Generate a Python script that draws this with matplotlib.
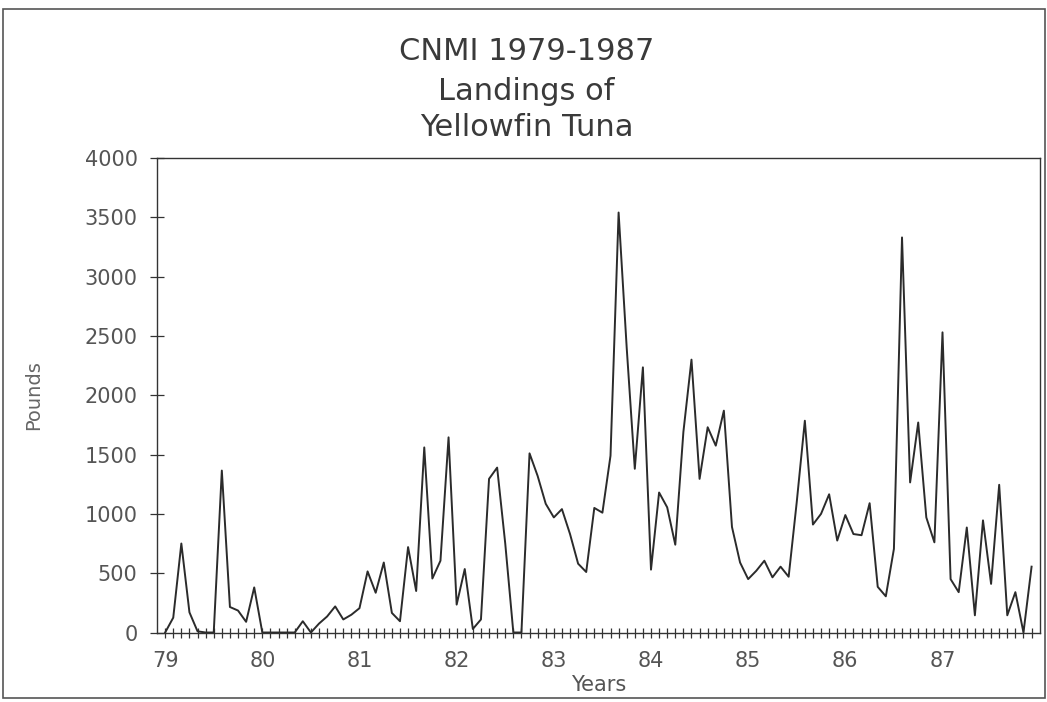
import numpy as np
import matplotlib
matplotlib.use("Agg")
import matplotlib.pyplot as plt
from matplotlib.patches import Rectangle

# monthly landings, Jan 1979 .. Dec 1987 (pounds)
year_labels = ["79", "80", "81", "82", "83", "84", "85", "86", "87"]
landings = [
    0, 125, 750, 170, 10, 0, 0, 1365, 215, 185, 90, 380,          # 1979
    0, 0, 0, 0, 0, 95, 0, 75, 135, 220, 110, 150,                  # 1980
    205, 515, 335, 590, 165, 95, 720, 350, 1560, 455, 605, 1645,   # 1981
    235, 535, 30, 110, 1295, 1390, 750, 0, 0, 1510, 1320, 1085,    # 1982
    970, 1040, 830, 580, 510, 1050, 1010, 1490, 3540, 2400, 1380, 2235,  # 1983
    530, 1180, 1055, 740, 1690, 2300, 1295, 1730, 1575, 1870, 890, 590,  # 1984
    450, 520, 605, 465, 555, 470, 1100, 1785, 910, 1000, 1165, 775,      # 1985
    990, 830, 820, 1090, 385, 305, 705, 3330, 1265, 1770, 970, 760,      # 1986
    2530, 450, 340, 885, 145, 945, 410, 1245, 145, 340, 0, 555,          # 1987
]
y_ticks = [0, 500, 1000, 1500, 2000, 2500, 3000, 3500, 4000]

first_year = 79
months = first_year + np.arange(len(landings)) / 12.0
year_pos = first_year + np.arange(len(year_labels))

txt = "#555555"
plt.rcParams["font.family"] = ["DejaVu Sans"]

fig = plt.figure(figsize=(10.47, 7.02), dpi=100)
ax = fig.add_axes([0.150, 0.099, 0.843, 0.676])

ax.plot(months, landings, color="#2b2b2b", linewidth=1.4)

ax.set_xlim(first_year - 1 / 12, first_year + len(landings) / 12)
ax.set_ylim(0, 4000)

ax.set_xticks(year_pos)
ax.set_xticklabels(year_labels)
ax.set_xticks(months, minor=True)
ax.set_yticks(y_ticks)
ax.set_yticklabels([str(v) for v in y_ticks])

ax.tick_params(axis="x", which="both", direction="inout", length=7, width=0.9,
               color="#333333", labelsize=15, labelcolor=txt, pad=10)
ax.tick_params(axis="y", direction="inout", length=10, width=0.9,
               color="#333333", labelsize=15, labelcolor=txt, pad=9)
for sp in ax.spines.values():
    sp.set_color("#333333")
    sp.set_linewidth(1.0)

ax.set_xlabel("Years", fontsize=15, color=txt, labelpad=3)
ax.set_ylabel("Pounds", fontsize=14, color="#666666", labelpad=30)

fig.text(0.503, 0.927, "CNMI 1979-1987", ha="center", va="center",
         fontsize=22, color="#3a3a3a")
fig.text(0.503, 0.870, "Landings of", ha="center", va="center",
         fontsize=22, color="#3a3a3a")
fig.text(0.503, 0.818, "Yellowfin Tuna", ha="center", va="center",
         fontsize=22, color="#3a3a3a")

# outer frame around the whole chart
fig.patches.append(Rectangle((0.003, 0.006), 0.995, 0.981, transform=fig.transFigure,
                             fill=False, edgecolor="#555555", linewidth=1.2))

fig.savefig("out.png", dpi=100)
